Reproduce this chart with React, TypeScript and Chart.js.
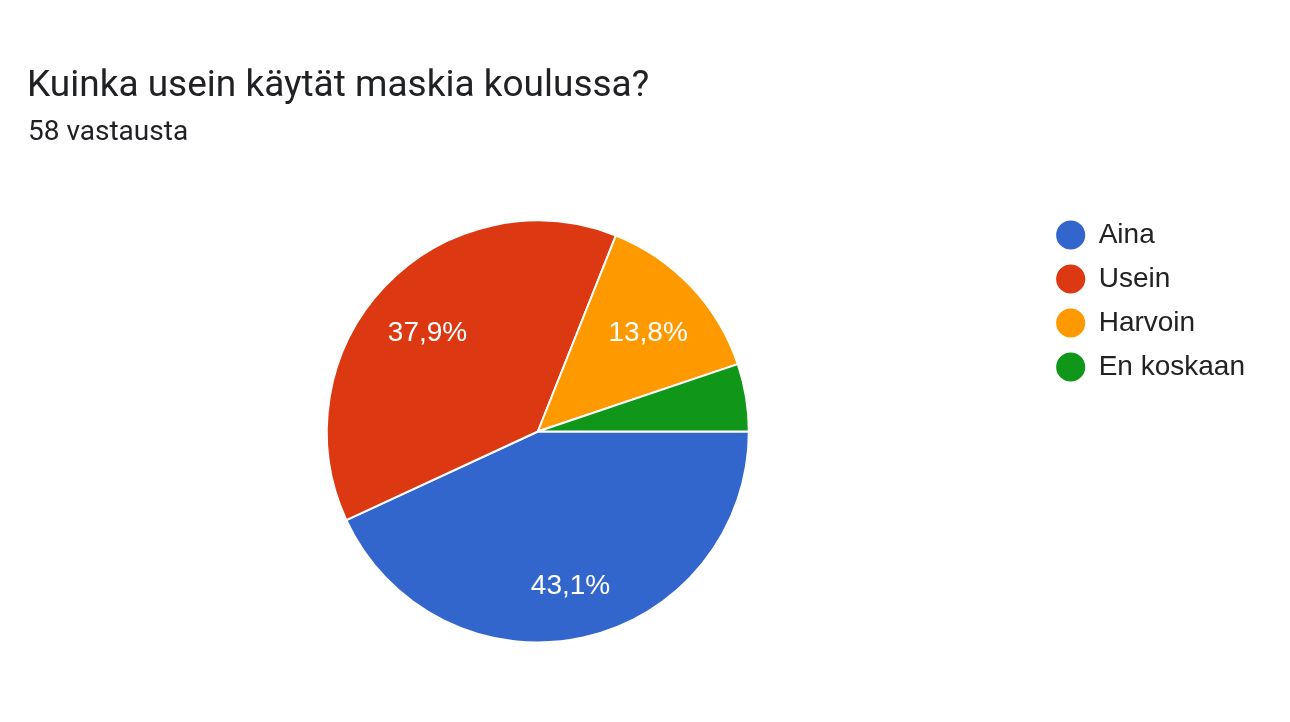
import { useEffect, useRef } from 'react';
import { Chart, registerables } from 'chart.js';

Chart.register(...registerables);

const categories = ['Aina', 'Usein', 'Harvoin', 'En koskaan'];
const answers = [25, 22, 8, 3];
const sliceColors = ['#3366cc', '#dc3912', '#ff9900', '#109618'];

const LABEL_FONT = 'Arial, "Liberation Sans", sans-serif';

// percentage labels inside the slices, Google style ("43,1%")
const sliceLabels = {
  id: 'sliceLabels',
  afterDatasetsDraw(chart: Chart) {
    const { ctx } = chart;
    const meta = chart.getDatasetMeta(0);
    const values = chart.data.datasets[0].data as number[];
    const total = values.reduce((a, b) => a + b, 0);
    ctx.save();
    ctx.fillStyle = '#ffffff';
    ctx.font = `28px ${LABEL_FONT}`;
    ctx.textAlign = 'center';
    ctx.textBaseline = 'middle';
    meta.data.forEach((arc, i) => {
      const share = values[i] / total;
      if (share < 0.08) return;
      const { x, y, startAngle, endAngle, outerRadius } = (arc as any).getProps(
        ['x', 'y', 'startAngle', 'endAngle', 'outerRadius'],
        true
      );
      const mid = (startAngle + endAngle) / 2;
      const r = outerRadius * 0.72;
      const text = (share * 100).toFixed(1).replace('.', ',') + '%';
      ctx.fillText(text, x + Math.cos(mid) * r, y + Math.sin(mid) * r + 6);
    });
    ctx.restore();
  },
};

export default function App() {
  const canvasRef = useRef<HTMLCanvasElement>(null);
  const chartRef = useRef<Chart | null>(null);

  useEffect(() => {
    if (!canvasRef.current) return;
    if (chartRef.current) chartRef.current.destroy();

    chartRef.current = new Chart(canvasRef.current, {
      type: 'pie',
      data: {
        labels: categories,
        datasets: [
          {
            data: answers,
            backgroundColor: sliceColors,
            borderColor: '#ffffff',
            borderWidth: 2,
            hoverOffset: 0,
            radius: 211,
          },
        ],
      },
      options: {
        responsive: false,
        animation: false,
        events: [],
        rotation: 90,
        layout: {
          padding: { left: 35, right: 35, top: 205, bottom: 64 },
        },
        plugins: {
          tooltip: { enabled: false },
          legend: {
            position: 'right',
            align: 'start',
            labels: {
              usePointStyle: true,
              pointStyle: 'circle',
              boxHeight: 22,
              padding: 16,
              color: '#222222',
              font: { family: LABEL_FONT, size: 28 },
            },
          },
        },
      },
      plugins: [sliceLabels],
    });

    return () => {
      if (chartRef.current) {
        chartRef.current.destroy();
        chartRef.current = null;
      }
    };
  }, []);

  return (
    <div
      style={{
        position: 'absolute',
        left: 0,
        top: 0,
        width: 1290,
        height: 722,
        background: '#ffffff',
        fontFamily: 'Roboto, sans-serif',
        color: '#202124',
      }}
    >
      <div style={{ position: 'absolute', left: 27, top: 65, fontSize: 37, lineHeight: '37px', whiteSpace: 'nowrap' }}>
        Kuinka usein käytät maskia koulussa?
      </div>
      <div style={{ position: 'absolute', left: 28, top: 117, fontSize: 28, lineHeight: '28px', whiteSpace: 'nowrap' }}>
        58 vastausta
      </div>
      <canvas ref={canvasRef} width={1290} height={722} style={{ display: 'block' }}></canvas>
    </div>
  );
}
